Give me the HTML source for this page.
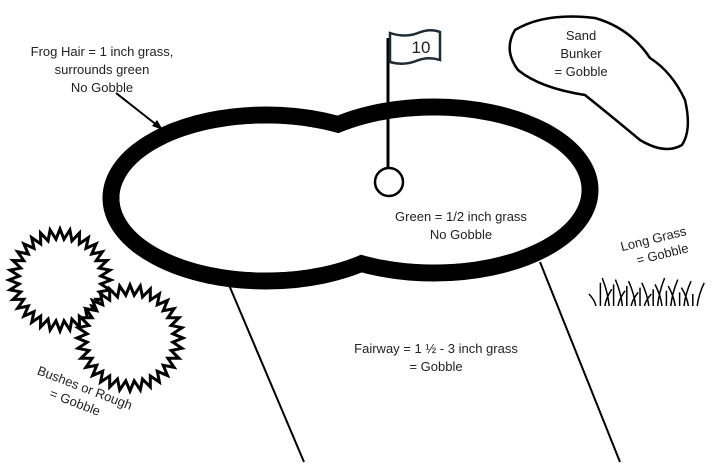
<!DOCTYPE html>
<html><head><meta charset="utf-8"><style>
html,body{margin:0;padding:0;background:#fff;width:722px;height:475px;overflow:hidden}
svg{display:block}
text{font-family:"Liberation Sans",sans-serif;fill:#222}
</style></head><body>
<svg id="s" width="722" height="475" viewBox="0 0 722 475" xmlns="http://www.w3.org/2000/svg">
<!-- fairway lines -->
<line x1="229" y1="285" x2="304" y2="462" stroke="#000" stroke-width="2"/>
<line x1="540" y1="262" x2="620" y2="462" stroke="#000" stroke-width="2"/>
<!-- green outline -->
<ellipse cx="266" cy="198" rx="155" ry="83" fill="none" stroke="#000" stroke-width="17"/>
<ellipse cx="434" cy="190" rx="156" ry="83" fill="none" stroke="#000" stroke-width="17"/>
<ellipse cx="266" cy="198" rx="146.5" ry="74.5" fill="#fff"/>
<ellipse cx="434" cy="190" rx="147.5" ry="74.5" fill="#fff"/>
<!-- flag -->
<line x1="388" y1="38" x2="388" y2="176" stroke="#000" stroke-width="3"/>
<circle cx="389" cy="182" r="14" fill="#fff" stroke="#000" stroke-width="2.5"/>
<path d="M390 33 Q405 38 418 33 Q430 28 440 32 L440 60 Q428 56 416 61 Q403 66 390 62 Z" fill="#fff" stroke="#1c2b36" stroke-width="2.5"/>
<text x="421" y="53" font-size="17" text-anchor="middle" fill="#111">10</text>
<!-- sand bunker -->
<path d="M515 30 Q545 12 595 18 Q630 28 650 58 Q672 72 685 100 Q692 130 682 145 Q665 155 640 140 Q610 115 585 95 Q540 88 518 70 Q503 50 515 30 Z" fill="none" stroke="#000" stroke-width="2.5"/>
<text font-size="13" text-anchor="middle"><tspan x="581" y="40">Sand</tspan><tspan x="581" y="58">Bunker</tspan><tspan x="581" y="76">= Gobble</tspan></text>
<!-- frog hair -->
<text font-size="13" text-anchor="middle"><tspan x="102" y="56">Frog Hair = 1 inch grass,</tspan><tspan x="102" y="74">surrounds green</tspan><tspan x="102" y="92">No Gobble</tspan></text>
<line x1="116" y1="93" x2="158" y2="126" stroke="#000" stroke-width="2"/>
<polygon points="163,130 152,126 157,120" fill="#000"/>
<!-- green text -->
<text font-size="13" text-anchor="middle"><tspan x="461" y="221">Green = 1/2 inch grass</tspan><tspan x="461" y="239">No Gobble</tspan></text>
<!-- fairway text -->
<text font-size="13" text-anchor="middle"><tspan x="436" y="353">Fairway = 1 ½ - 3 inch grass</tspan><tspan x="436" y="371">= Gobble</tspan></text>
<!-- long grass text -->
<g transform="rotate(-14 655 245)"><text font-size="13" text-anchor="middle"><tspan x="655" y="243">Long Grass</tspan><tspan x="660" y="260">= Gobble</tspan></text></g>
<!-- bushes text -->
<g transform="rotate(21 80 395)"><text font-size="13" text-anchor="middle"><tspan x="82" y="391">Bushes or Rough</tspan><tspan x="78" y="408">= Gobble</tspan></text></g>
<g id="dyn"></g>
</svg>
<script>
var g=document.getElementById('dyn'),NS="http://www.w3.org/2000/svg";
function star(cx,cy,ro,ri,n){var p=[];for(var i=0;i<2*n;i++){var a=Math.PI*i/n,r=i%2?ri:ro;p.push((cx+r*Math.cos(a)).toFixed(1)+","+(cy+r*Math.sin(a)).toFixed(1));}
var e=document.createElementNS(NS,'polygon');e.setAttribute('points',p.join(' '));e.setAttribute('fill','#fff');e.setAttribute('stroke','#000');e.setAttribute('stroke-width','3');g.appendChild(e);}
star(60,280,51,41,32);star(130,338,53,43,32);
var d="";for(var i=0;i<24;i++){var x=596+i*4.4,h=12+((i*7)%11)*1.6,lean=((i%3)-1)*7;d+="M"+x+" 306 Q"+(x+lean*0.2)+" "+(306-h/2)+" "+(x+lean)+" "+(306-h)+" ";}
var p=document.createElementNS(NS,'path');p.setAttribute('d',d);p.setAttribute('fill','none');p.setAttribute('stroke','#000');p.setAttribute('stroke-width','1.5');g.appendChild(p);
</script>
</body></html>
